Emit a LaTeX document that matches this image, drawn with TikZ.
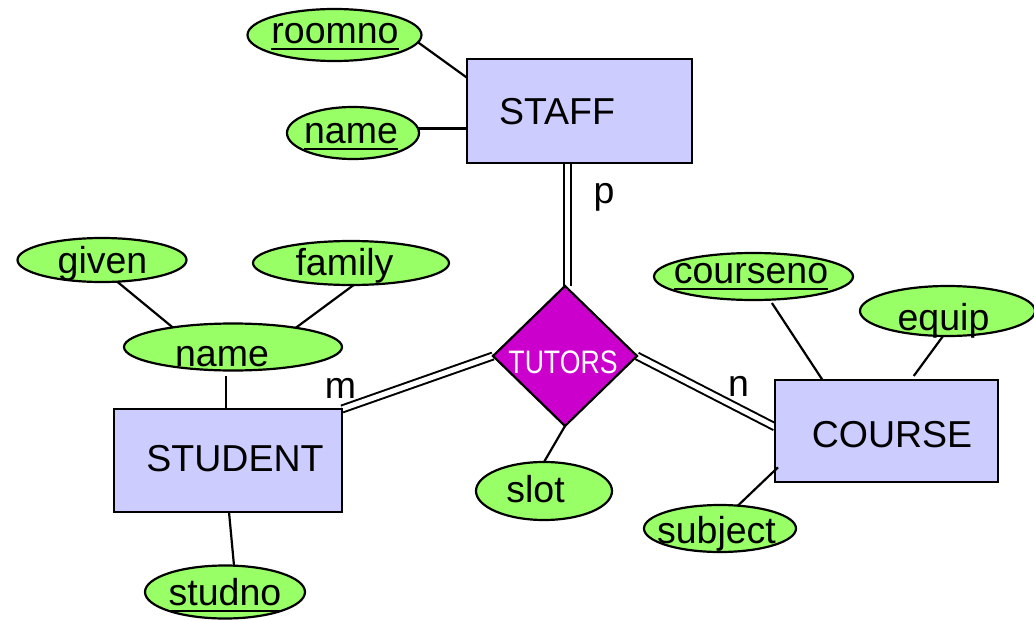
\documentclass[tikz,border=0pt]{standalone}
\usepackage{fontspec}
\setmainfont{Liberation Sans}
\usepackage{graphicx}
\usetikzlibrary{shapes.geometric,calc}
\pgfdeclarelayer{bg}
\pgfsetlayers{bg,main}
\definecolor{attrgreen}{HTML}{99FF66}
\definecolor{entblue}{HTML}{CCCCFF}
\definecolor{relmag}{HTML}{CC00CC}
\newsavebox\keybox
\newcommand\keyattr[1]{\sbox\keybox{#1}\rlap{\rule[-7.3pt]{\wd\keybox}{2.6pt}}\usebox\keybox}
\begin{document}
\begin{tikzpicture}[x=1pt,y=-1pt,
  every node/.style={font=\fontsize{37.5}{42}\selectfont, inner sep=0pt, outer sep=0pt},
  attr/.style={ellipse, draw, line width=2.2pt, fill=attrgreen},
  entity/.style={rectangle, draw, line width=2.4pt, fill=entblue},
  relship/.style={diamond, draw, line width=2.2pt, fill=relmag},
  txt/.style={anchor=base},
  link/.style={line width=2.2pt},
  total/.style={line width=2pt, double, double distance=5pt},
]
\useasboundingbox (0,0) rectangle (1034,621);

% entities and relationship
\node[entity, minimum width=225, minimum height=104] (staff) at (579.5,111) {};
\node[entity, minimum width=228, minimum height=103] (student) at (228,460.5) {};
\node[entity, minimum width=223, minimum height=102] (course) at (886.5,431) {};
\node[relship, minimum width=144, minimum height=140] (tutors) at (565,356) {};

% attributes
\node[attr, minimum width=174, minimum height=52] (roomno) at (334.5,35) {};
\node[attr, minimum width=132, minimum height=52] (sname) at (353,133) {};
\node[attr, minimum width=169, minimum height=44] (given) at (102,260) {};
\node[attr, minimum width=196, minimum height=44] (family) at (351,263) {};
\node[attr, minimum width=218, minimum height=47] (stname) at (233,347) {};
\node[attr, minimum width=160, minimum height=53] (studno) at (225,592) {};
\node[attr, minimum width=199, minimum height=47] (courseno) at (753.5,276.5) {};
\node[attr, minimum width=175, minimum height=50] (equip) at (947.5,311) {};
\node[attr, minimum width=136, minimum height=58] (slot) at (544,491) {};
\node[attr, minimum width=152, minimum height=47] (subject) at (720,528.5) {};

% texts
\node[txt] (staff-t) at (557,124) {STAFF};
\node[txt] (student-t) at (235,471) {STUDENT};
\node[txt] (course-t) at (892,447) {COURSE};
\node[txt, text=white, font=\fontsize{32.5}{36}\selectfont] (tutors-t) at (563,373) {\scalebox{0.82}[1]{TUTORS}};
\node[txt] (roomno-t) at (335,43) {\keyattr{roomno}};
\node[txt] (sname-t) at (351,143) {\keyattr{name}};
\node[txt] (given-t) at (102.5,273) {given};
\node[txt] (family-t) at (344.5,275) {family};
\node[txt] (stname-t) at (222,366) {name};
\node[txt] (studno-t) at (225,605) {\keyattr{studno}};
\node[txt] (courseno-t) at (751,283) {\keyattr{courseno}};
\node[txt] (equip-t) at (943.5,330) {equip};
\node[txt] (slot-t) at (535.5,502) {slot};
\node[txt] (subject-t) at (716.5,543) {subject};

% cardinality labels
\node[txt] (p-l) at (604,203) {p};
\node[txt] (m-l) at (340.5,398) {m};
\node[txt] (n-l) at (738.5,396) {n};

\begin{pgfonlayer}{bg}
\draw[link] (roomno.-5) -- ($(staff.north west)!0.18!(staff.south west)$);
\draw[link] (sname.4) -- (sname.4 -| staff.west);
\draw[total] ([xshift=2pt]tutors.north) -- ([xshift=2pt]tutors.north |- staff.south);
\draw[total] (student.north east) -- (tutors.west);
\draw[total] (tutors.east) -- ($(course.north west)!0.46!(course.south west)$);
\draw[link] (given.-55) -- (stname.162);
\draw[link] (family.-83) -- (stname.17);
\draw[link, shorten <=5pt] ([xshift=-7pt]stname.south) -- ([xshift=-7pt]stname.south |- student.north);
\draw[link] ([xshift=1pt]student.south) -- ([xshift=9pt]studno.north);
\draw[link] (tutors.south) -- (slot.north);
\draw[link, shorten <=4pt] (courseno.-55) -- ($(course.north west)!0.213!(course.north east)$);
\draw[link, shorten >=5pt] (equip.-100) -- ($(course.north west)!0.609!(course.north east)$);
\end{pgfonlayer}
\draw[link] (subject.52) -- ($(course.north west)!0.856!(course.south west)+(3,0)$);
\end{tikzpicture}
\end{document}
